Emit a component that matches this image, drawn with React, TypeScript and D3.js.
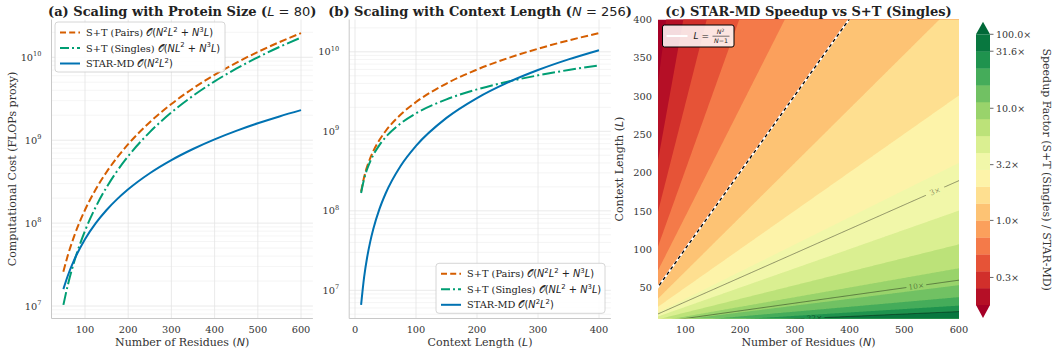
import React from 'react';
import * as d3 from 'd3';

// ---------------- DATA ----------------
// Panel (a): cost vs number of residues N (L = 80)
const residuesN = [50, 60, 75, 100, 125, 150, 175, 200, 250, 300, 350, 400, 450, 500, 550, 600];
const costAPairs = [2.6e7, 4.032e7, 6.975e7, 1.44e8, 2.5625e8, 4.14e8, 6.2475e8, 8.96e8, 1.65e9, 2.736e9, 4.214e9, 6.144e9, 8.586e9, 1.16e10, 1.5246e10, 1.9584e10];
const costASingles = [1.032e7, 1.7664e7, 3.423e7, 8.064e7, 1.5705e8, 2.7096e8, 4.2987e8, 6.4128e8, 1.2516e9, 2.16192e9, 3.43224e9, 5.12256e9, 7.29288e9, 1.00032e10, 1.331352e10, 1.728384e10];
const costAStar = [1.6e7, 2.304e7, 3.6e7, 6.4e7, 1e8, 1.44e8, 1.96e8, 2.56e8, 4e8, 5.76e8, 7.84e8, 1.024e9, 1.296e9, 1.6e9, 1.936e9, 2.304e9];

// Panel (b): cost vs context length L (N = 256)
const contextL = [10, 15, 20, 25, 30, 40, 50, 75, 100, 150, 200, 250, 300, 350, 400];
const costBPairs = [1.7433e8, 2.664e8, 3.6176e8, 4.6039e8, 5.623e8, 7.7595e8, 1.0027e9, 1.6269e9, 2.3331e9, 3.9911e9, 5.9769e9, 8.2903e9, 1.0931e10, 1.39e10, 1.7197e10];
const costBSingles = [1.678e8, 2.5172e8, 3.3565e8, 4.1959e8, 5.0355e8, 6.715e8, 8.395e8, 1.2597e9, 1.6803e9, 2.5223e9, 3.3657e9, 4.2103e9, 5.0562e9, 5.9034e9, 6.7518e9];
const costBStar = [6.5536e6, 1.4746e7, 2.6214e7, 4.096e7, 5.8982e7, 1.0486e8, 1.6384e8, 3.6864e8, 6.5536e8, 1.4746e9, 2.6214e9, 4.096e9, 5.8982e9, 8.0282e9, 1.0486e10];

// Ticks
const xTicksA = [100, 200, 300, 400, 500, 600];
const xTicksB = [0, 100, 200, 300, 400];
const yDecades = [7, 8, 9, 10];
const xTicksC = [100, 200, 300, 400, 500, 600];
const yTicksC = [50, 100, 150, 200, 250, 300, 350, 400];

// Panel (c): speedup map
const rangeN = [50, 600];
const rangeL = [10, 400];
const speedupLevels = [0.1778, 0.2512, 0.3548, 0.5012, 0.7079, 1.0, 1.4125, 1.9953, 2.8184, 3.9811, 5.6234, 7.9433, 11.22, 15.849, 22.387, 31.623, 100];
const lineLevels = [3.162, 10, 31.62];
const lineLabels = ['3×', '10×', '32×'];
const lineLabelX = [935, 916, 815];
const breakEvenLevel = 1.0;
const cbarTicks = [0.3162, 1, 3.162, 10, 31.62, 100];
const cbarTickLabels = ['0.3×', '1.0×', '3.2×', '10.0×', '31.6×', '100.0×'];

// ---------------- STYLE ----------------
const SERIF = '"DejaVu Serif", serif';
const SANS = '"DejaVu Sans", sans-serif';
const C_PAIRS = '#D55E00';
const C_SINGLES = '#009E73';
const C_STAR = '#0072B2';
const TOP = 19.5;
const BOTTOM = 318.5;

type Tok = { t: string; k?: 'i' | 'sup' | 'n' | 's' };

function Toks({ toks, fs, bold }: { toks: Tok[]; fs: number; bold?: boolean }) {
  const out: any[] = [];
  let shifted = false;
  toks.forEach((tok, idx) => {
    if (tok.k === 'sup') {
      out.push(
        <tspan key={idx} fontFamily={SANS} fontWeight="normal" fontSize={fs * 0.7} dy={shifted ? 0 : -fs * 0.42}>
          {tok.t}
        </tspan>
      );
      shifted = true;
    } else {
      const isText = tok.k === 's';
      out.push(
        <tspan
          key={idx}
          fontFamily={isText ? SERIF : SANS}
          fontWeight={isText && bold ? 'bold' : 'normal'}
          fontStyle={tok.k === 'i' ? 'italic' : 'normal'}
          fontSize={fs}
          dy={shifted ? fs * 0.42 : 0}
        >
          {tok.t}
        </tspan>
      );
      shifted = false;
    }
  });
  return <>{out}</>;
}

const labelPairs: Tok[] = [
  { t: 'S+T (Pairs) ', k: 's' }, { t: '𝒪(' }, { t: 'N', k: 'i' }, { t: '2', k: 'sup' }, { t: 'L', k: 'i' }, { t: '2', k: 'sup' },
  { t: ' + ' }, { t: 'N', k: 'i' }, { t: '3', k: 'sup' }, { t: 'L', k: 'i' }, { t: ')' },
];
const labelSingles: Tok[] = [
  { t: 'S+T (Singles) ', k: 's' }, { t: '𝒪(' }, { t: 'N', k: 'i' }, { t: 'L', k: 'i' }, { t: '2', k: 'sup' },
  { t: ' + ' }, { t: 'N', k: 'i' }, { t: '3', k: 'sup' }, { t: 'L', k: 'i' }, { t: ')' },
];
const labelStar: Tok[] = [
  { t: 'STAR-MD ', k: 's' }, { t: '𝒪(' }, { t: 'N', k: 'i' }, { t: '2', k: 'sup' }, { t: 'L', k: 'i' }, { t: '2', k: 'sup' }, { t: ')' },
];

const padLin = (ext: number[]) => {
  const r = ext[1] - ext[0];
  return [ext[0] - 0.05 * r, ext[1] + 0.05 * r];
};
const padLog = (ext: number[]) => {
  const a = Math.log10(ext[0]);
  const b = Math.log10(ext[1]);
  const r = b - a;
  return [10 ** (a - 0.05 * r), 10 ** (b + 0.05 * r)];
};

function LinePanel(props: {
  x0: number; x1: number; xs: number[]; pairs: number[]; singles: number[]; star: number[];
  xTicks: number[]; title: Tok[]; xlabel: Tok[]; ylabel?: string; legend: { x: number; y: number; w: number };
}) {
  const { x0, x1, xs, pairs, singles, star, xTicks, title, xlabel, ylabel, legend } = props;
  const x = d3.scaleLinear().domain(padLin(d3.extent(xs) as number[])).range([x0, x1]);
  const y = d3.scaleLog().domain(padLog(d3.extent([...pairs, ...singles, ...star]) as number[])).range([BOTTOM, TOP]);
  const [ylo, yhi] = y.domain();
  const minor: number[] = [];
  for (let d = Math.floor(Math.log10(ylo)); d <= Math.ceil(Math.log10(yhi)); d++) {
    for (let m = 2; m <= 9; m++) {
      const v = m * 10 ** d;
      if (v > ylo && v < yhi) minor.push(v);
    }
  }
  const line = d3.line<number>().x((_, i) => x(xs[i])).y((v) => y(v)).curve(d3.curveMonotoneX);
  const series = [
    { vals: pairs, color: C_PAIRS, dash: '7.4,3.2', label: labelPairs },
    { vals: singles, color: C_SINGLES, dash: '12.8,3.2,2,3.2', label: labelSingles },
    { vals: star, color: C_STAR, dash: undefined as any, label: labelStar },
  ];
  const cx = (x0 + x1) / 2;
  return (
    <g>
      {minor.map((v) => (
        <line key={'m' + v} x1={x0} x2={x1} y1={y(v)} y2={y(v)} stroke="#efefef" strokeWidth={0.6} />
      ))}
      {yDecades.map((d) => (
        <line key={'d' + d} x1={x0} x2={x1} y1={y(10 ** d)} y2={y(10 ** d)} stroke="#e4e4e4" strokeWidth={0.8} />
      ))}
      {xTicks.map((t) => (
        <line key={'x' + t} x1={x(t)} x2={x(t)} y1={TOP} y2={BOTTOM} stroke="#e4e4e4" strokeWidth={0.8} />
      ))}
      <line x1={x0} x2={x0} y1={TOP} y2={BOTTOM} stroke="#c8c8c8" strokeWidth={1} />
      <line x1={x0} x2={x1} y1={BOTTOM} y2={BOTTOM} stroke="#c8c8c8" strokeWidth={1} />
      {series.map((s, i) => (
        <path key={i} d={line(s.vals) as string} fill="none" stroke={s.color} strokeWidth={2} strokeDasharray={s.dash} />
      ))}
      {xTicks.map((t) => (
        <text key={'xl' + t} x={x(t)} y={333} textAnchor="middle" fontFamily={SERIF} fontSize={9.8} fill="#333">
          {t}
        </text>
      ))}
      {yDecades.map((d) => (
        <text key={'yl' + d} x={x0 - 10} y={y(10 ** d) + 3.5} textAnchor="end" fontFamily={SERIF} fontSize={9.8} fill="#333">
          10<tspan fontSize={6.6} dy={-4.5}>{d}</tspan>
        </text>
      ))}
      <text x={cx} y={346} textAnchor="middle" fill="#333" style={{ whiteSpace: 'pre' }}>
        <Toks toks={xlabel} fs={11} />
      </text>
      {ylabel && (
        <text transform={`translate(16,${(TOP + BOTTOM) / 2}) rotate(-90)`} textAnchor="middle" fontFamily={SERIF} fontSize={11} fill="#333">
          {ylabel}
        </text>
      )}
      <text x={cx} y={16} textAnchor="middle" fill="#222" style={{ whiteSpace: 'pre' }}>
        <Toks toks={title} fs={13} bold />
      </text>
      <g transform={`translate(${legend.x},${legend.y})`}>
        <rect x={0} y={0} width={legend.w} height={50} rx={3} fill="white" fillOpacity={0.85} stroke="#cccccc" strokeWidth={0.8} />
        {series.map((s, i) => (
          <g key={i} transform={`translate(0,${10.5 + i * 15.5})`}>
            <line x1={5} x2={25} y1={0} y2={0} stroke={s.color} strokeWidth={2} strokeDasharray={s.dash ? (i === 0 ? '6,3.2' : '9,3,2,3') : undefined} />
            <text x={31} y={3.5} fill="#222" style={{ whiteSpace: 'pre' }}>
              <Toks toks={s.label} fs={9.8} />
            </text>
          </g>
        ))}
      </g>
    </g>
  );
}

// Cost model expressions (from legend) used to build the panel-(c) field
const singlesCost = (N: number, L: number) => N * L * L + N * N * N * L;
const starCost = (N: number, L: number) => N * N * L * L;

function SpeedupPanel() {
  const x0 = 658, x1 = 959;
  const xC = d3.scaleLinear().domain(rangeN).range([x0, x1]);
  const yC = d3.scaleLinear().domain(rangeL).range([BOTTOM, TOP]);
  const step = 2;
  const n0 = rangeN[0] - 2 * step, l0 = rangeL[0] - 2 * step;
  const nx = Math.round((rangeN[1] - rangeN[0]) / step) + 5;
  const ny = Math.round((rangeL[1] - rangeL[0]) / step) + 5;
  const values = new Float64Array(nx * ny);
  for (let j = 0; j < ny; j++) {
    for (let i = 0; i < nx; i++) {
      const N = n0 + i * step;
      const L = Math.max(l0 + j * step, 1);
      values[j * nx + i] = Math.log10(singlesCost(N, L) / starCost(N, L));
    }
  }
  const gN = (c: number) => n0 + (c - 0.5) * step;
  const gL = (c: number) => l0 + (c - 0.5) * step;
  const proj = d3.geoTransform({
    point: function (this: any, px: number, py: number) {
      this.stream.point(xC(gN(px)), yC(gL(py)));
    },
  });
  const path = d3.geoPath(proj as any);
  const gen = d3.contours().size([nx, ny]);
  const bands = gen.thresholds(speedupLevels.map(Math.log10))(values as any);
  const nb = speedupLevels.length - 1;
  const bandColor = (i: number) => d3.interpolateRdYlGn((i + 0.5) / nb);
  const under = d3.interpolateRdYlGn(0);
  const over = d3.interpolateRdYlGn(1);
  const lines = d3.contours().size([nx, ny]).thresholds(lineLevels.map(Math.log10))(values as any);
  const breakEven = d3.contours().size([nx, ny]).thresholds([Math.log10(breakEvenLevel)])(values as any)[0];

  // label positions found on the contour geometry (interior vertices only)
  const labelPos = lines.map((geom, k) => {
    const pts: [number, number][] = [];
    geom.coordinates.forEach((poly) => poly.forEach((ring) => ring.forEach(([a, b]) => {
      if (a <= 0 || a >= nx || b <= 0 || b >= ny) return;
      const px = xC(gN(a)), py = yC(gL(b));
      pts.push([px, py]);
    })));
    const near = (tx: number) => pts.reduce((best, p) => (Math.abs(p[0] - tx) < Math.abs(best[0] - tx) ? p : best), pts[0]);
    const p = near(lineLabelX[k]);
    const q = near(lineLabelX[k] + 20);
    const ang = (Math.atan2(q[1] - p[1], q[0] - p[0]) * 180) / Math.PI;
    return { x: p[0], y: p[1], ang };
  });

  // colorbar
  const cbX = 976, cbW = 14, cbTop = 34.3, cbBot = 305;
  const cbY = d3.scaleLinear()
    .domain(speedupLevels)
    .range(speedupLevels.map((_, i) => cbBot - (i * (cbBot - cbTop)) / nb))
    .clamp(true);

  return (
    <g>
      <defs>
        <clipPath id="clipC">
          <rect x={x0} y={TOP} width={x1 - x0} height={BOTTOM - TOP} />
        </clipPath>
        <mask id="lblMask" maskUnits="userSpaceOnUse" x={0} y={0} width={1052} height={352}>
          <rect x={0} y={0} width={1052} height={352} fill="white" />
          {labelPos.map((p, k) => (
            <rect key={k} x={-10} y={-4} width={20} height={8} fill="black" transform={`translate(${p.x},${p.y}) rotate(${p.ang})`} />
          ))}
        </mask>
      </defs>
      <g clipPath="url(#clipC)">
        <rect x={x0} y={TOP} width={x1 - x0} height={BOTTOM - TOP} fill={under} />
        {bands.map((b, i) => (
          <path key={i} d={path(b as any) as string} fill={i < nb ? bandColor(i) : over} />
        ))}
        <g mask="url(#lblMask)">
          {lines.map((b, i) => (
            <path key={i} d={path(b as any) as string} fill="none" stroke="#000" strokeOpacity={0.45} strokeWidth={0.9} />
          ))}
        </g>
        {labelPos.map((p, k) => (
          <text key={k} transform={`translate(${p.x},${p.y}) rotate(${p.ang})`} y={2.6} textAnchor="middle" fontFamily={SERIF} fontSize={7.5} fill="#000" fillOpacity={0.45}>
            {lineLabels[k]}
          </text>
        ))}
        <path d={path(breakEven as any) as string} fill="none" stroke="#fff" strokeWidth={2} />
        <path d={path(breakEven as any) as string} fill="none" stroke="#000" strokeWidth={1.3} strokeDasharray="3.5,3" />
      </g>
      {xTicksC.map((t) => (
        <text key={'x' + t} x={xC(t)} y={333} textAnchor="middle" fontFamily={SERIF} fontSize={9.8} fill="#333">{t}</text>
      ))}
      {yTicksC.map((t) => (
        <text key={'y' + t} x={x0 - 6} y={yC(t) + 3.5} textAnchor="end" fontFamily={SERIF} fontSize={9.8} fill="#333">{t}</text>
      ))}
      <text x={(x0 + x1) / 2} y={346} textAnchor="middle" fill="#333" style={{ whiteSpace: 'pre' }}>
        <Toks toks={[{ t: 'Number of Residues (', k: 's' }, { t: 'N', k: 'i' }, { t: ')', k: 's' }]} fs={11} />
      </text>
      <text transform={`translate(623,${(TOP + BOTTOM) / 2}) rotate(-90)`} textAnchor="middle" fill="#333" style={{ whiteSpace: 'pre' }}>
        <Toks toks={[{ t: 'Context Length (', k: 's' }, { t: 'L', k: 'i' }, { t: ')', k: 's' }]} fs={11} />
      </text>
      <text x={(x0 + x1) / 2} y={16} textAnchor="middle" fontFamily={SERIF} fontWeight="bold" fontSize={13} fill="#222">
        (c) STAR-MD Speedup vs S+T (Singles)
      </text>
      {/* legend */}
      <g transform="translate(662.5,25)">
        <rect x={0} y={0} width={71.5} height={22} rx={2} fill="white" fillOpacity={0.85} stroke="#000" strokeWidth={1} />
        <line x1={4} x2={25} y1={11} y2={11} stroke="#fff" strokeWidth={2} />
        <text x={31} y={14.3} fontFamily={SANS} fontSize={9} fill="#222">
          <tspan fontStyle="italic">L</tspan> =
        </text>
        <text x={58} y={9} textAnchor="middle" fontFamily={SANS} fontSize={6.3} fill="#222">
          <tspan fontStyle="italic">N</tspan><tspan fontSize={4.5} dy={-2}>2</tspan>
        </text>
        <line x1={50} x2={67} y1={11.2} y2={11.2} stroke="#222" strokeWidth={0.6} />
        <text x={58.5} y={18} textAnchor="middle" fontFamily={SANS} fontSize={6.3} fill="#222">
          <tspan fontStyle="italic">N</tspan>−1
        </text>
      </g>
      {/* colorbar */}
      {speedupLevels.slice(0, nb).map((lv, i) => (
        <rect key={i} x={cbX} y={cbY(speedupLevels[i + 1])} width={cbW} height={cbY(lv) - cbY(speedupLevels[i + 1]) + 0.3} fill={bandColor(i)} />
      ))}
      <polygon points={`${cbX},${cbTop} ${cbX + cbW},${cbTop} ${cbX + cbW / 2},${cbTop - 12.5}`} fill={over} />
      <polygon points={`${cbX},${cbBot} ${cbX + cbW},${cbBot} ${cbX + cbW / 2},${cbBot + 13}`} fill={under} />
      {cbarTicks.map((t, i) => (
        <g key={i}>
          <line x1={cbX + cbW} x2={cbX + cbW + 3.5} y1={cbY(t)} y2={cbY(t)} stroke="#444" strokeWidth={0.8} />
          <text x={cbX + cbW + 6} y={cbY(t) + 3.3} fontFamily={SERIF} fontSize={9.5} fill="#333">{cbarTickLabels[i]}</text>
        </g>
      ))}
      <text transform={`translate(1043,${(cbTop + cbBot) / 2}) rotate(90)`} textAnchor="middle" fontFamily={SERIF} fontSize={11} fill="#333">
        Speedup Factor (S+T (Singles) / STAR-MD)
      </text>
    </g>
  );
}

export default function App() {
  return (
    <svg width={1052} height={352} style={{ position: 'absolute', left: 0, top: 0, display: 'block', background: '#fff' }}>
      <rect width={1052} height={352} fill="#fff" />
      <LinePanel
        x0={51.5}
        x1={312.9}
        xs={residuesN}
        pairs={costAPairs}
        singles={costASingles}
        star={costAStar}
        xTicks={xTicksA}
        title={[{ t: '(a) Scaling with Protein Size (', k: 's' }, { t: 'L', k: 'i' }, { t: ' = 80' }, { t: ')', k: 's' }]}
        xlabel={[{ t: 'Number of Residues (', k: 's' }, { t: 'N', k: 'i' }, { t: ')', k: 's' }]}
        ylabel="Computational Cost (FLOPs proxy)"
        legend={{ x: 55, y: 22, w: 170 }}
      />
      <LinePanel
        x0={349.2}
        x1={610.9}
        xs={contextL}
        pairs={costBPairs}
        singles={costBSingles}
        star={costBStar}
        xTicks={xTicksB}
        title={[{ t: '(b) Scaling with Context Length (', k: 's' }, { t: 'N', k: 'i' }, { t: ' = 256' }, { t: ')', k: 's' }]}
        xlabel={[{ t: 'Context Length (', k: 's' }, { t: 'L', k: 'i' }, { t: ')', k: 's' }]}
        legend={{ x: 436, y: 263.3, w: 169 }}
      />
      <SpeedupPanel />
    </svg>
  );
}
